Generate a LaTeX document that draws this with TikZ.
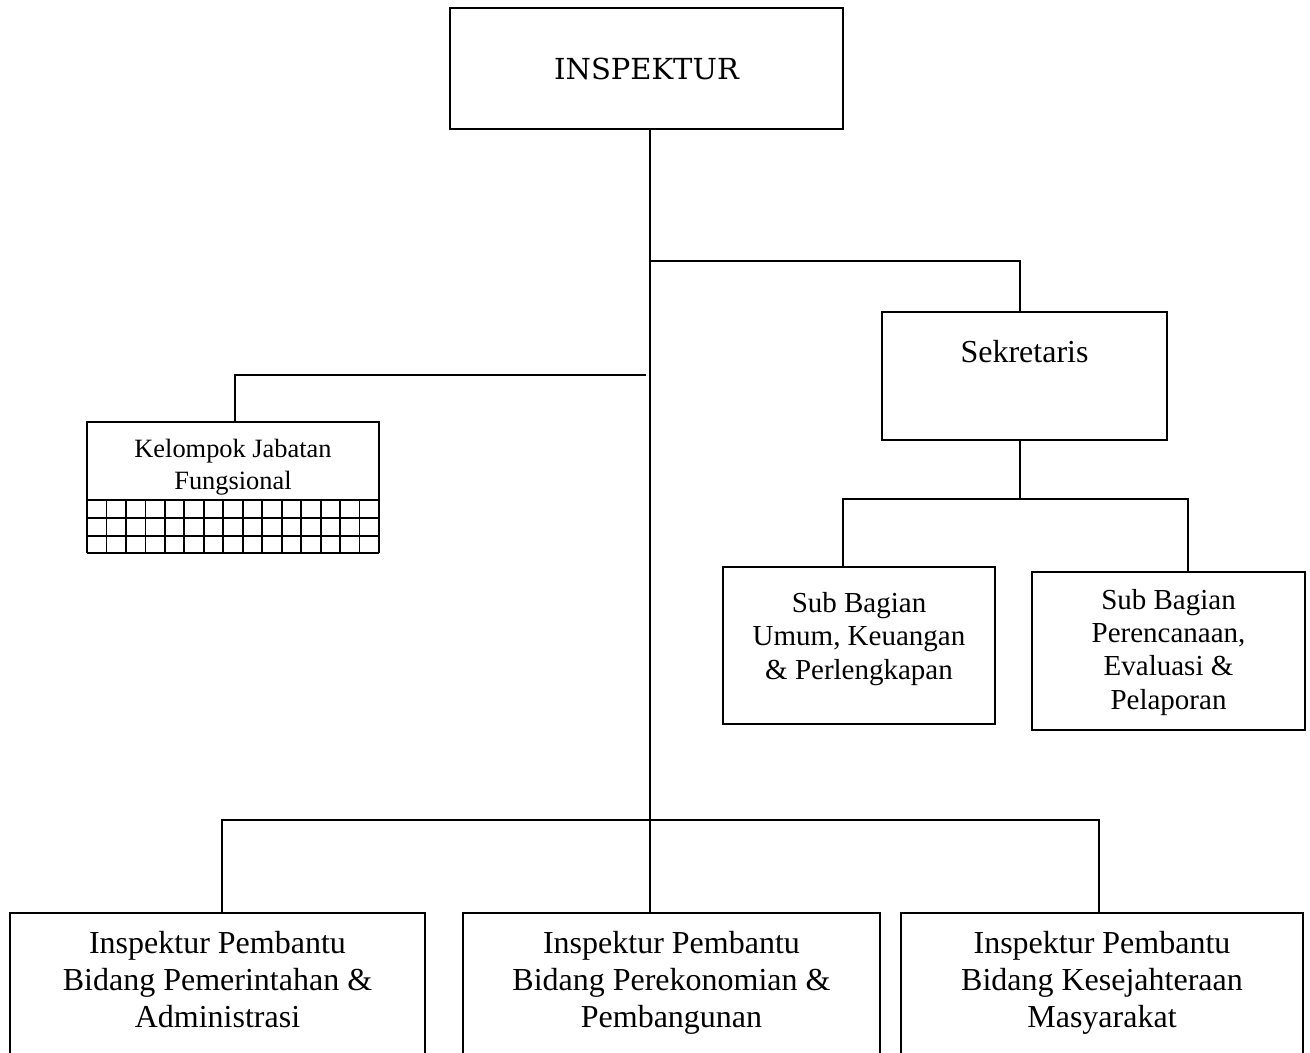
\documentclass[tikz,border=0pt]{standalone}
\usepackage{fontspec}
\setmainfont{Liberation Serif}
\newfontfamily\headfont{DejaVu Serif}

\begin{document}
\begin{tikzpicture}[x=0.5pt, y=-0.5pt, line width=0.9pt,
  box/.style={draw, line width=0.9pt, align=center, inner sep=0pt},
  bigtxt/.style={font=\fontsize{16}{18.5}\selectfont},
  subtxt/.style={font=\fontsize{14.5}{16.6}\selectfont},
  smalltxt/.style={font=\fontsize{13.2}{16}\selectfont}]
\path[use as bounding box, clip] (0,0) rectangle (1310,1053);

% Inspektur
\node[box, minimum width=196.5pt, minimum height=60.5pt, font=\headfont\fontsize{14.5}{17}\selectfont] (insp) at (646.5,68.5) {INSPEKTUR};

% Sekretariat
\node[box, bigtxt, minimum width=142.5pt, minimum height=64pt, text height=11pt, text depth=25pt] (sek) at (1024.5,376) {Sekretaris};
\node[box, subtxt, minimum width=136pt, minimum height=78.5pt, text height=37.5pt, text depth=4pt] (sub1) at (859,645.5) {Sub Bagian\\Umum, Keuangan\\\& Perlengkapan};
\node[box, subtxt, minimum width=136.5pt, minimum height=79pt, text height=62pt, text depth=4pt] (sub2) at (1168.5,651) {Sub Bagian\\Perencanaan,\\Evaluasi \&\\Pelaporan};

% Jabatan fungsional
\node[box, smalltxt, minimum width=146pt, minimum height=39pt, text height=32pt, text depth=4pt] (kjf) at (233,461) {Kelompok Jabatan\\Fungsional};
\foreach \r in {518,536,553} \draw (87,\r) -- (379,\r);
\foreach \c in {0,...,15} \draw ({87+\c*292/15},500) -- ({87+\c*292/15},553);

% Inspektur pembantu
\node[box, bigtxt, minimum width=207.5pt, minimum height=90pt, text height=28pt, text depth=4pt] (ipa) at (217.5,1003) {Inspektur Pembantu\\Bidang Pemerintahan \&\\Administrasi};
\node[box, bigtxt, minimum width=208.5pt, minimum height=90pt, text height=28pt, text depth=4pt] (ipb) at (671.5,1003) {Inspektur Pembantu\\Bidang Perekonomian \&\\Pembangunan};
\node[box, bigtxt, minimum width=201pt, minimum height=90pt, text height=28pt, text depth=4pt] (ipc) at (1102,1003) {Inspektur Pembantu\\Bidang Kesejahteraan\\Masyarakat};

% Lines
\coordinate (j1) at (650,261);
\coordinate (j2) at (646,375);
\coordinate (j3) at (1020,499);
\coordinate (bus) at (650,820);
\coordinate (s1) at ([xshift=-8pt]sub1.north);
\coordinate (s2) at ([xshift=9.75pt]sub2.north);
\coordinate (b1) at ([xshift=2.25pt]ipa.north);
\coordinate (b2) at ([xshift=-10.75pt]ipb.north);
\coordinate (b3) at ([xshift=-1.5pt]ipc.north);

\draw (insp.south -| bus) -- (bus);
\draw (j1) -| ([xshift=-2.25pt]sek.north);
\draw (j2) -| ([xshift=1pt]kjf.north);
\draw ([xshift=-2.25pt]sek.south) -- (j3);
\draw (s1) |- (j3) -| (s2);
\draw (b1) |- (bus) -| (b3);
\draw (bus) -- (b2);
\end{tikzpicture}
\end{document}
